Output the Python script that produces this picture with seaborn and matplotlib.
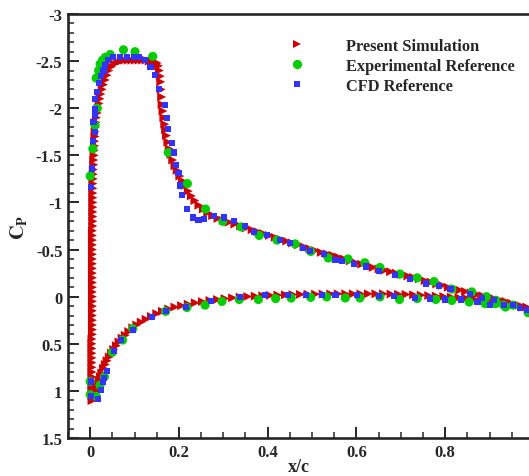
import numpy as np
import pandas as pd
import matplotlib
matplotlib.use("Agg")
import matplotlib.pyplot as plt
from matplotlib.lines import Line2D
from matplotlib.ticker import MultipleLocator, FormatStrFormatter
import seaborn as sns

# ---------------- data ----------------
# Present Simulation, upper surface (stagnation -> trailing edge)
sim_upper_x = [
    0.004, 0.004, 0.004, 0.004, 0.004, 0.004, 0.004, 0.004, 0.004, 0.004,
    0.004, 0.004, 0.004, 0.004, 0.005, 0.005, 0.005, 0.005, 0.005, 0.005,
    0.005, 0.005, 0.005, 0.005, 0.005, 0.005, 0.005, 0.005, 0.005, 0.005,
    0.005, 0.005, 0.005, 0.005, 0.005, 0.005, 0.005, 0.006, 0.006, 0.006,
    0.006, 0.006, 0.006, 0.006, 0.006, 0.006, 0.006, 0.007, 0.007, 0.007,
    0.008, 0.008, 0.009, 0.009, 0.010, 0.010, 0.011, 0.011, 0.012, 0.013,
    0.014, 0.016, 0.018, 0.020, 0.022, 0.024, 0.027, 0.030, 0.034, 0.038,
    0.042, 0.048, 0.055, 0.062, 0.070, 0.078, 0.086, 0.094, 0.102, 0.110,
    0.118, 0.126, 0.133, 0.140, 0.146, 0.151, 0.154, 0.156, 0.158, 0.159,
    0.160, 0.161, 0.162, 0.164, 0.166, 0.168, 0.170, 0.172, 0.175, 0.178,
    0.182, 0.186, 0.191, 0.196, 0.202, 0.208, 0.214, 0.221, 0.228, 0.236,
    0.245, 0.255, 0.265, 0.276, 0.288, 0.300, 0.313, 0.326, 0.339, 0.352,
    0.365, 0.378, 0.391, 0.404, 0.417, 0.430, 0.443, 0.456, 0.469, 0.482,
    0.495, 0.508, 0.521, 0.534, 0.547, 0.560, 0.573, 0.586, 0.599, 0.612,
    0.625, 0.638, 0.651, 0.664, 0.677, 0.690, 0.703, 0.716, 0.729, 0.742,
    0.755, 0.768, 0.781, 0.794, 0.807, 0.820, 0.833, 0.846, 0.859, 0.872,
    0.885, 0.898, 0.911, 0.924, 0.937, 0.950, 0.963, 0.976, 0.989, 1.000,
]
sim_upper_cp = [
    1.10, 1.05, 1.00, 0.95, 0.90, 0.85, 0.80, 0.75, 0.70, 0.65,
    0.60, 0.55, 0.50, 0.45, 0.40, 0.35, 0.30, 0.25, 0.20, 0.15,
    0.10, 0.05, 0.00, -0.05, -0.10, -0.15, -0.20, -0.25, -0.30, -0.35,
    -0.40, -0.45, -0.50, -0.55, -0.60, -0.65, -0.70, -0.75, -0.80, -0.85,
    -0.90, -0.95, -1.00, -1.05, -1.10, -1.15, -1.20, -1.25, -1.30, -1.35,
    -1.40, -1.45, -1.50, -1.55, -1.60, -1.65, -1.70, -1.75, -1.80, -1.85,
    -1.90, -1.95, -2.00, -2.05, -2.10, -2.15, -2.20, -2.25, -2.30, -2.35,
    -2.40, -2.44, -2.47, -2.49, -2.50, -2.51, -2.51, -2.51, -2.51, -2.51,
    -2.51, -2.51, -2.50, -2.50, -2.49, -2.48, -2.45, -2.40, -2.34, -2.28,
    -2.20, -2.12, -2.04, -1.97, -1.90, -1.83, -1.77, -1.71, -1.64, -1.57,
    -1.51, -1.45, -1.39, -1.34, -1.28, -1.23, -1.18, -1.12, -1.07, -1.02,
    -0.97, -0.93, -0.89, -0.86, -0.83, -0.81, -0.79, -0.77, -0.75, -0.73,
    -0.71, -0.69, -0.67, -0.65, -0.63, -0.61, -0.59, -0.57, -0.55, -0.53,
    -0.51, -0.49, -0.47, -0.455, -0.44, -0.42, -0.40, -0.38, -0.36, -0.345,
    -0.33, -0.31, -0.295, -0.28, -0.265, -0.25, -0.235, -0.22, -0.205, -0.19,
    -0.17, -0.155, -0.135, -0.12, -0.10, -0.085, -0.07, -0.055, -0.04, -0.025,
    -0.01, 0.005, 0.02, 0.035, 0.05, 0.07, 0.09, 0.11, 0.13, 0.15,
]

# Present Simulation, lower surface
sim_lower_x = [
    0.006, 0.008, 0.010, 0.012, 0.014, 0.017, 0.020, 0.023, 0.026, 0.030,
    0.034, 0.038, 0.043, 0.048, 0.053, 0.059, 0.065, 0.072, 0.079, 0.087,
    0.096, 0.105, 0.115, 0.126, 0.138, 0.150, 0.163, 0.177, 0.191, 0.206,
    0.221, 0.237, 0.253, 0.270, 0.287, 0.304, 0.321, 0.338, 0.355, 0.372,
    0.389, 0.406, 0.423, 0.440, 0.457, 0.474, 0.491, 0.508, 0.525, 0.542,
    0.559, 0.576, 0.593, 0.610, 0.627, 0.644, 0.661, 0.678, 0.695, 0.712,
    0.729, 0.746, 0.763, 0.780, 0.797, 0.814, 0.831, 0.848, 0.865, 0.882,
    0.899, 0.916, 0.933, 0.950, 0.967, 0.984, 1.000,
]
sim_lower_cp = [
    1.10, 1.07, 1.04, 1.00, 0.97, 0.93, 0.89, 0.85, 0.81, 0.76,
    0.72, 0.68, 0.64, 0.60, 0.56, 0.52, 0.48, 0.44, 0.41, 0.37,
    0.33, 0.30, 0.27, 0.24, 0.21, 0.18, 0.155, 0.13, 0.11, 0.095,
    0.08, 0.065, 0.052, 0.04, 0.03, 0.02, 0.012, 0.005, -0.001, -0.006,
    -0.01, -0.014, -0.017, -0.02, -0.022, -0.024, -0.026, -0.027, -0.028, -0.029,
    -0.03, -0.03, -0.03, -0.03, -0.03, -0.03, -0.03, -0.028, -0.026, -0.024,
    -0.02, -0.016, -0.012, -0.007, -0.002, 0.004, 0.01, 0.017, 0.025, 0.033,
    0.042, 0.052, 0.063, 0.075, 0.09, 0.11, 0.13,
]

# Experimental Reference
exp_upper_x = [
    0.000, 0.006, 0.011, 0.016, 0.0135, 0.019, 0.0225, 0.028, 0.034, 0.045,
    0.075, 0.101, 0.141, 0.176, 0.219, 0.260, 0.299, 0.340, 0.381, 0.421,
    0.462, 0.497, 0.537, 0.581, 0.619, 0.653, 0.698, 0.737, 0.775, 0.815,
    0.860, 0.893, 0.914, 0.932, 0.953, 0.987,
]
exp_upper_cp = [
    -1.28, -1.57, -1.82, -2.00, -2.32, -2.40, -2.47, -2.51, -2.54, -2.57,
    -2.62, -2.60, -2.55, -1.53, -1.20, -0.93, -0.80, -0.74, -0.65, -0.60,
    -0.56, -0.48, -0.41, -0.40, -0.36, -0.31, -0.24, -0.20, -0.16, -0.08,
    -0.05, 0.00, 0.04, 0.09, 0.09, 0.17,
]
exp_lower_x = [
    0.000, 0.000, 0.014, 0.022, 0.032, 0.050, 0.073, 0.096, 0.170, 0.218,
    0.259, 0.297, 0.336, 0.379, 0.418, 0.453, 0.497, 0.533, 0.575, 0.608,
    0.653, 0.697, 0.737, 0.779, 0.815, 0.854, 0.890, 0.914, 0.936,
]
exp_lower_cp = [
    0.90, 1.04, 1.06, 0.94, 0.85, 0.59, 0.46, 0.34, 0.156, 0.115,
    0.09, 0.05, 0.03, 0.03, 0.02, 0.014, 0.007, 0.003, 0.014, 0.014,
    0.003, 0.03, 0.02, 0.03, 0.04, 0.056, 0.074, 0.074, 0.11,
]

# CFD Reference
cfd_upper_x = [
    0.0015, 0.004, 0.006, 0.010, 0.0075, 0.010, 0.011, 0.011, 0.016, 0.019,
    0.024, 0.030, 0.034, 0.041, 0.052, 0.068, 0.083, 0.098, 0.111, 0.124,
    0.136, 0.146, 0.155, 0.169, 0.174, 0.176, 0.184, 0.188, 0.194, 0.199,
    0.203, 0.206, 0.219, 0.231, 0.244, 0.257, 0.279, 0.302, 0.324, 0.349,
    0.369, 0.398, 0.428, 0.450, 0.479, 0.495, 0.527, 0.553, 0.567, 0.595,
    0.622, 0.651, 0.687, 0.721, 0.757, 0.786, 0.812, 0.857, 0.884, 0.911,
    0.933, 0.952, 0.968, 0.985,
]
cfd_upper_cp = [
    -1.16, -1.36, -1.65, -1.75, -1.85, -1.93, -1.99, -2.10, -2.17, -2.27,
    -2.34, -2.40, -2.46, -2.51, -2.54, -2.54, -2.54, -2.54, -2.54, -2.51,
    -2.44, -2.35, -2.20, -2.03, -1.90, -1.78, -1.63, -1.53, -1.40, -1.31,
    -1.18, -1.075, -0.93, -0.84, -0.81, -0.82, -0.86, -0.84, -0.80, -0.75,
    -0.69, -0.65, -0.60, -0.57, -0.52, -0.485, -0.45, -0.385, -0.38, -0.35,
    -0.32, -0.27, -0.23, -0.19, -0.14, -0.11, -0.08, -0.025, 0.014, 0.04,
    0.085, 0.09, 0.117, 0.145,
]
cfd_lower_x = [
    0.0015, 0.0015, 0.017, 0.024, 0.028, 0.032, 0.037, 0.054, 0.069, 0.096,
    0.139, 0.170, 0.215, 0.272, 0.338, 0.394, 0.445, 0.486, 0.523, 0.553,
    0.602, 0.651, 0.685, 0.732, 0.766, 0.800, 0.835, 0.873, 0.902,
]
cfd_lower_cp = [
    0.90, 1.05, 1.09, 0.995, 0.91, 0.86, 0.785, 0.58, 0.46, 0.35,
    0.22, 0.15, 0.11, 0.05, 0.003, -0.014, -0.014, -0.02, -0.014, -0.014,
    -0.014, -0.003, -0.003, 0.01, 0.02, 0.03, 0.03, 0.056, 0.09,
]

labels = ["Present Simulation", "Experimental Reference", "CFD Reference"]
colors = ["#CC0000", "#00CC00", "#3333FF"]

# ---------------- style ----------------
sns.set_style("ticks")
plt.rcParams["font.family"] = ["Liberation Serif", "DejaVu Serif"]
plt.rcParams["font.weight"] = "bold"
plt.rcParams["axes.unicode_minus"] = False
plt.rcParams["mathtext.fontset"] = "stix"

sim = pd.DataFrame({"x": sim_upper_x + sim_lower_x, "cp": sim_upper_cp + sim_lower_cp})
exp = pd.DataFrame({"x": exp_upper_x + exp_lower_x, "cp": exp_upper_cp + exp_lower_cp})
cfd = pd.DataFrame({"x": cfd_upper_x + cfd_lower_x, "cp": cfd_upper_cp + cfd_lower_cp})

fig = plt.figure(figsize=(5.29, 4.77), dpi=100)
ax = fig.add_axes([68 / 529, 38 / 477, (529 - 68) / 529, 424 / 477])

ms_tri, ms_circ, ms_sq = 6.4, 6.6, 4.4
sns.scatterplot(data=sim, x="x", y="cp", marker=">", s=ms_tri ** 2, color=colors[0],
                edgecolor="none", linewidth=0, ax=ax, zorder=2, legend=False)
sns.scatterplot(data=exp, x="x", y="cp", marker="o", s=ms_circ ** 2, color=colors[1],
                edgecolor="none", linewidth=0, ax=ax, zorder=3, legend=False)
sns.scatterplot(data=cfd, x="x", y="cp", marker="s", s=ms_sq ** 2, color=colors[2],
                edgecolor="none", linewidth=0, ax=ax, zorder=4, legend=False)

ax.set_xlim(-0.05, 0.989)
ax.set_ylim(1.5, -3.0)

ax.xaxis.set_major_locator(MultipleLocator(0.2))
ax.xaxis.set_minor_locator(MultipleLocator(0.05))
ax.yaxis.set_major_locator(MultipleLocator(0.5))
ax.yaxis.set_minor_locator(MultipleLocator(0.1))
ax.xaxis.set_major_formatter(FormatStrFormatter("%g"))
ax.yaxis.set_major_formatter(FormatStrFormatter("%g"))

ax.tick_params(which="major", direction="in", length=8, width=1.4, labelsize=12,
               top=False, right=False, pad=4)
ax.tick_params(which="minor", direction="in", length=4.5, width=1.1, top=False, right=False)

for side in ["left", "bottom", "top"]:
    ax.spines[side].set_linewidth(1.9)
ax.spines["right"].set_visible(False)

ax.set_xlabel("x/c", fontsize=13, fontweight="bold", labelpad=-1)
ax.set_ylabel(r"$\mathbf{C_P}$", fontsize=14.5, labelpad=5)

handles = [
    Line2D([], [], linestyle="none", marker=">", markersize=ms_tri, color=colors[0], markeredgewidth=0),
    Line2D([], [], linestyle="none", marker="o", markersize=ms_circ, color=colors[1], markeredgewidth=0),
    Line2D([], [], linestyle="none", marker="s", markersize=ms_sq, color=colors[2], markeredgewidth=0),
]
fs = 11.8
leg = ax.legend(handles, labels, loc="upper left", frameon=False,
                bbox_to_anchor=(281 / 529, 1 - 39 / 477), bbox_transform=fig.transFigure,
                borderpad=0, borderaxespad=0, handlelength=2.0, handletextpad=1.95,
                labelspacing=0.24, prop={"family": "Liberation Serif", "weight": "bold", "size": fs})

fig.canvas.draw()
for tk in ax.xaxis.get_major_ticks() + ax.yaxis.get_major_ticks():
    tk.label1.set_fontweight("bold")
    tk.label1.set_fontfamily("Liberation Serif")

fig.savefig("out.png", dpi=100)
